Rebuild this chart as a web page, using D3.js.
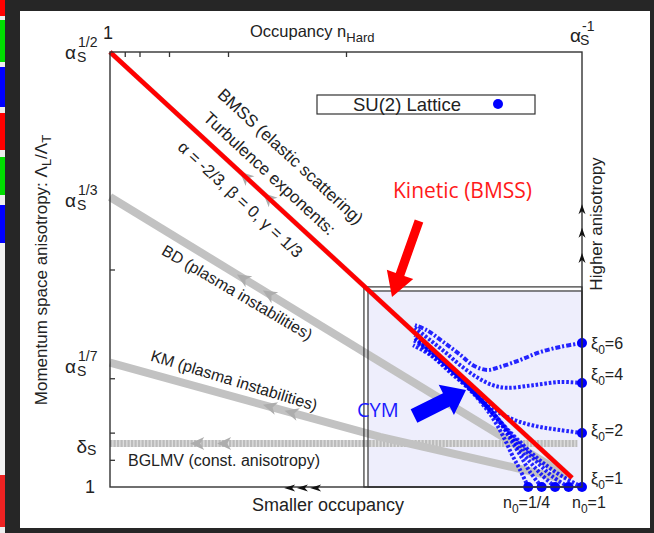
<!DOCTYPE html>
<html><head><meta charset="utf-8">
<script src="https://cdn.jsdelivr.net/npm/d3@7"></script>
<style>body{margin:0;background:#262626;}svg{display:block}</style>
</head><body>
<svg id="c" width="654" height="533"></svg>
<script>
// ---------------- data (exponents of alpha_s) ----------------
// x: occupancy exponent p (n_Hard = alpha_s^-p), y: anisotropy exponent q
const xTicks = [1/32, 1/16, 1/8, 1/4, 1/2];
const yTicks = [1/32, 1/16, 1/8, 1/4];
const yPowerLabels = [{e:1/2, sup:"1/2"}, {e:1/3, sup:"1/3"}, {e:1/7, sup:"1/7"}];
const deltaS = 0.05;
const bmssLine = [[0,0.5],[0.979,0.0105]];
const bdLine = [[0,1/3],[0.97,0.012]];
const kmLine = [[0,1/7],[0.572,0.0575],[0.953,0.0103]];
const bglmvLine = [[0,0.05],[0.99,0.05]];
const bmssArrows = [0.275, 0.324];
const bdArrows = [0.269, 0.324];
const kmArrows = [0.324, 0.37];
const bglmvArrows = [0.17, 0.227];
const latticeOuter = [0.538, 0.23];
const latticeInner = [0.5466, 0.2253];
const higherArrows = [0.325, 0.298, 0.269];   // anisotropy exponent of tips on right axis
const smallerArrows = [0.369, 0.396, 0.424];  // occupancy exponent of tips on bottom axis
const xi6 = [[1.0,0.1655],[0.953,0.161],[0.911,0.155],[0.869,0.146],[0.826,0.138],[0.799,0.1345],[0.769,0.140],[0.742,0.152],[0.706,0.1667],[0.672,0.180],[0.646,0.186]];
const xi4 = [[1.0,0.1195],[0.953,0.1207],[0.896,0.117],[0.841,0.114],[0.811,0.117],[0.778,0.126],[0.742,0.140],[0.710,0.155],[0.678,0.169],[0.646,0.183]];
const xi2 = [[1.0,0.062],[0.953,0.0655],[0.911,0.069],[0.869,0.0747],[0.833,0.0828],[0.805,0.092],[0.769,0.109],[0.727,0.131],[0.684,0.1506],[0.653,0.1655]];
const xi1a = [[0.886,0],[0.869,0.0195],[0.852,0.0368],[0.837,0.054],[0.820,0.0713],[0.799,0.0885],[0.763,0.1115],[0.720,0.132],[0.678,0.152],[0.642,0.163]];
const xi1b = [[0.9145,0],[0.890,0.0172],[0.869,0.0368],[0.847,0.0563],[0.826,0.0747],[0.801,0.0908],[0.763,0.1138],[0.720,0.1368],[0.678,0.157],[0.642,0.169]];
const xi1c = [[0.943,0],[0.915,0.0138],[0.890,0.0287],[0.864,0.046],[0.839,0.0655],[0.8136,0.0828],[0.775,0.1057],[0.731,0.131],[0.684,0.154],[0.644,0.172]];
const xi1d = [[0.9715,0],[0.9386,0.0115],[0.911,0.0253],[0.8835,0.0402],[0.854,0.0575],[0.826,0.0759],[0.788,0.0989],[0.742,0.125],[0.693,0.1506],[0.646,0.1747]];
const xi1e = [[1.0,0],[0.964,0.0103],[0.932,0.0218],[0.900,0.0356],[0.869,0.0517],[0.837,0.069],[0.799,0.0931],[0.752,0.1195],[0.699,0.148],[0.648,0.177]];
const xiDots = [[1,0.1655],[1,0.1195],[1,0.062]];
const n0Dots = [[0.886,0],[0.9145,0],[0.943,0],[0.9715,0],[1.0,0]];
const xiLabels = [{v:"6", e:0.1655},{v:"4", e:0.1195},{v:"2", e:0.062},{v:"1", e:0}];

// ---------------- drawing ----------------
const W=654,H=533;
const svg=d3.select("#c");
const FONT="'Liberation Sans', Arial, sans-serif";
const INK="#222";
svg.append("rect").attr("width",W).attr("height",H).attr("fill","#262626");
svg.append("rect").attr("x",20).attr("y",11).attr("width",630).attr("height",517).attr("fill","#fff");
const strips=[[0,16,"#ff0000"],[16,20,"#eee"],[20,62,"#00dd00"],[62,67,"#eee"],[67,107,"#0000ff"],[107,113,"#eee"],[113,150,"#ff0000"],[150,157,"#eee"],[157,195,"#00dd00"],[195,205,"#eee"],[205,243,"#0000ff"],[243,475,"#f2f2f2"],[475,527,"#ee2222"],[527,533,"#eee"]];
strips.forEach(s=>svg.append("rect").attr("x",0).attr("y",s[0]).attr("width",5).attr("height",s[1]-s[0]).attr("fill",s[2]));

const x=d3.scaleLinear().domain([0,1]).range([110,582]);
const y=d3.scaleLinear().domain([0,0.5]).range([487,52]);
const line=d3.line().x(d=>x(d[0])).y(d=>y(d[1]));
const curve=d3.line().x(d=>x(d[0])).y(d=>y(d[1])).curve(d3.curveCatmullRom.alpha(0.5));

// lattice region
svg.append("rect").attr("x",x(latticeInner[0])).attr("y",y(latticeInner[1]))
  .attr("width",x(1)-x(latticeInner[0])).attr("height",y(0)-y(latticeInner[1])).attr("fill","#eeeefc");

// gray lines
function pointAt(pts, xf){
  for(let i=0;i<pts.length-1;i++){
    const a=pts[i],b=pts[i+1];
    if(xf>=a[0]&&xf<=b[0]){
      const t=(xf-a[0])/(b[0]-a[0]);
      const e=a[1]+t*(b[1]-a[1]);
      const ang=Math.atan2(y(b[1])-y(a[1]),x(b[0])-x(a[0]))*180/Math.PI;
      return [x(xf),y(e),ang];
    }
  }
}
function grayArrows(pts, list, sc){
  list.forEach(xf=>{
    const p=pointAt(pts,xf);
    svg.append("path").attr("d",`M0,0 L${14*sc},${-6.5*sc} L${10*sc},0 L${14*sc},${6.5*sc} Z`)
      .attr("fill","#adadad").attr("transform",`translate(${p[0]},${p[1]}) rotate(${p[2]})`);
  });
}
svg.append("path").attr("d",line(bglmvLine)).attr("stroke","#dedede").attr("stroke-width",7).attr("fill","none");
svg.append("path").attr("d",line(bglmvLine)).attr("stroke","#bcbcbc").attr("stroke-width",7).attr("fill","none").attr("stroke-dasharray","2.2,1.3");
grayArrows(bglmvLine,bglmvArrows,1);
svg.append("path").attr("d",line(kmLine)).attr("stroke","#c2c2c2").attr("stroke-width",8).attr("fill","none");
grayArrows(kmLine,kmArrows,1);
svg.append("path").attr("d",line(bdLine)).attr("stroke","#c2c2c2").attr("stroke-width",8).attr("fill","none");
grayArrows(bdLine,bdArrows,1);
svg.append("path").attr("d",line(bmssLine)).attr("stroke","#c2c2c2").attr("stroke-width",5).attr("fill","none");
grayArrows(bmssLine,bmssArrows,1);

// lattice borders
svg.append("rect").attr("x",x(latticeOuter[0])).attr("y",y(latticeOuter[1]))
  .attr("width",x(1)-x(latticeOuter[0])).attr("height",y(0)-y(latticeOuter[1])).attr("fill","none").attr("stroke","#333").attr("stroke-width",1.2);
svg.append("rect").attr("x",x(latticeInner[0])).attr("y",y(latticeInner[1]))
  .attr("width",x(1)-x(latticeInner[0])).attr("height",y(0)-y(latticeInner[1])).attr("fill","none").attr("stroke","#333").attr("stroke-width",1.2);

// blue lattice curves
[xi1a,xi1b,xi1c,xi1d,xi1e,xi2,xi4].forEach(c=>{
  svg.append("path").attr("d",curve(c)).attr("fill","none").attr("stroke","#0000ff").attr("stroke-opacity",0.85)
    .attr("stroke-width",4).attr("stroke-dasharray","2.6,1.8");
});
svg.append("path").attr("d",curve(xi6)).attr("fill","none").attr("stroke","#0000ff").attr("stroke-opacity",0.85)
  .attr("stroke-width",4).attr("stroke-dasharray","5,2,2,2");

// red BMSS line
svg.append("path").attr("d",line(bmssLine)).attr("stroke","#ff0000").attr("stroke-width",4.5).attr("fill","none");

// dots
svg.selectAll(".dot").data(xiDots.concat(n0Dots)).join("circle").attr("cx",d=>x(d[0])).attr("cy",d=>y(d[1])).attr("r",5).attr("fill","#0000ff");

// axes ticks
svg.append("g").attr("transform",`translate(0,${y(0.5)})`)
  .call(d3.axisTop(x).tickValues(xTicks).tickSize(-5).tickSizeOuter(0).tickFormat(""))
  .call(g=>{g.select(".domain").remove();g.selectAll("line").attr("stroke","#333").attr("stroke-width",1.3);});
svg.append("g").attr("transform",`translate(${x(0)},0)`)
  .call(d3.axisLeft(y).tickValues(yTicks).tickSize(-5).tickSizeOuter(0).tickFormat(""))
  .call(g=>{g.select(".domain").remove();g.selectAll("line").attr("stroke","#333").attr("stroke-width",1.3);});

// frame
svg.append("rect").attr("x",x(0)).attr("y",y(0.5)).attr("width",x(1)-x(0)).attr("height",y(0)-y(0.5))
  .attr("fill","none").attr("stroke","#333").attr("stroke-width",1.4);

// axis arrows
higherArrows.forEach(e=>svg.append("path").attr("d","M0,0 L-3.5,10 L0,7 L3.5,10 Z").attr("fill","#111")
  .attr("transform",`translate(${x(1)},${y(e)})`));
smallerArrows.forEach(p=>svg.append("path").attr("d","M0,0 L11,-3.5 L8,0 L11,3.5 Z").attr("fill","#111")
  .attr("transform",`translate(${x(p)},${y(0)+1})`));

// ---------------- text ----------------
function txt(xp,yp,size,str,opt={}){
  const t=svg.append("text").attr("x",xp).attr("y",yp).style("font-family",opt.font||FONT)
    .style("font-size",size+"px").attr("fill",opt.fill||INK);
  if(opt.anchor) t.attr("text-anchor",opt.anchor);
  if(opt.tr) t.attr("transform",opt.tr);
  if(str!==null) t.text(str);
  return t;
}
function rich(t,parts){
  parts.forEach(p=>{t.append("tspan").style("font-size",p.s+"px").attr("dy",p.dy||0).text(p.t);});
  return t;
}
// y tick labels: alpha_S with power as one text element (sub & sup via tspans)
yPowerLabels.forEach(d=>{
  const Y=y(d.e)+(d.e===0.5?-3:0);
  const t=txt(65,Y+10,19,null);
  t.append("tspan").text("α");
  t.append("tspan").attr("x",77).attr("y",Y+13).style("font-size","14px").text("S");
  t.append("tspan").attr("x",78).attr("y",Y-2).style("font-size","14px").text(d.sup);
});
{ const Y=y(deltaS); const t=txt(87,Y+9,19,null,{anchor:"end"}); t.append("tspan").text("δ");
  const s=txt(87,Y+11.5,14,"S"); }
txt(95,y(0)+6,18,"1",{anchor:"end"});
// top labels
txt(108,39,18,"1",{anchor:"middle"});
{ const t=txt(570,42,19,null); t.append("tspan").text("α");
  t.append("tspan").attr("x",580).attr("y",45).style("font-size","14px").text("S");
  t.append("tspan").attr("x",582).attr("y",31).style("font-size","14px").text("-1"); }
rich(txt(250,37,16.5,null),[{t:"Occupancy n",s:16.5},{t:"Hard",s:13,dy:5}]);
// y title
rich(txt(0,0,17,null,{anchor:"middle",tr:"translate(47,270) rotate(-90)"}),
  [{t:"Momentum space anisotropy: Λ",s:17},{t:"L",s:13,dy:4},{t:"/Λ",s:17,dy:-4},{t:"T",s:13,dy:4}]);
txt(0,0,17,"Higher anisotropy",{anchor:"middle",tr:"translate(602,224) rotate(-90)"});
txt(252,511,18,"Smaller occupancy");
rich(txt(503,508,16,null),[{t:"n",s:16},{t:"0",s:12,dy:5},{t:"=1/4",s:16,dy:-5}]);
rich(txt(572,508,16,null),[{t:"n",s:16},{t:"0",s:12,dy:5},{t:"=1",s:16,dy:-5}]);
const xiBase={"6":349,"4":380,"2":436,"1":484};
xiLabels.forEach(d=>rich(txt(591,xiBase[d.v],16,null),[{t:"ξ",s:16},{t:"0",s:12,dy:5},{t:"="+d.v,s:16,dy:-5}]));
// legend
svg.append("rect").attr("x",317).attr("y",95).attr("width",218).attr("height",19).attr("fill","#fff").attr("stroke","#333").attr("stroke-width",1.2);
txt(353,111,18.5,"SU(2) Lattice");
svg.append("circle").attr("cx",498).attr("cy",104).attr("r",5).attr("fill","#0000ff");
// diagonal annotations
txt(0,0,17,"BMSS (elastic scattering)",{anchor:"middle",tr:"translate(290,157) rotate(42.7) translate(0,5)"});
txt(0,0,17,"Turbulence exponents:",{anchor:"middle",tr:"translate(269,174) rotate(42.7) translate(0,5)"});
txt(0,0,16.5,"α = -2/3, β = 0, γ = 1/3",{anchor:"middle",tr:"translate(240,200) rotate(42.7) translate(0,5)"});
txt(0,0,16,"BD (plasma instabilities)",{anchor:"middle",tr:"translate(237,293) rotate(30.5) translate(0,5)"});
txt(0,0,16,"KM (plasma instabilities)",{anchor:"middle",tr:"translate(234,381) rotate(17) translate(0,5)"});
txt(128,466,16,"BGLMV (const. anisotropy)");
// coloured annotations
function fatArrow(x1,y1,x2,y2,sw,hl,hw){
  const dx=x2-x1,dy=y2-y1,L=Math.hypot(dx,dy),ux=dx/L,uy=dy/L,nx=-uy,ny=ux;
  const bx=x2-ux*hl,by=y2-uy*hl;
  const P=[[x1+nx*sw/2,y1+ny*sw/2],[bx+nx*sw/2,by+ny*sw/2],[bx+nx*hw/2,by+ny*hw/2],[x2,y2],
    [bx-nx*hw/2,by-ny*hw/2],[bx-nx*sw/2,by-ny*sw/2],[x1-nx*sw/2,y1-ny*sw/2]];
  return "M"+P.map(p=>p.join(",")).join("L")+"Z";
}
svg.append("path").attr("d",fatArrow(419,221,392,297,9,24,28)).attr("fill","#ff0000");
txt(393,198,21,"Kinetic (BMSS)",{fill:"#ff1a1a",font:"'Open Sans', 'Noto Sans', sans-serif"});
svg.append("path").attr("d",fatArrow(414,416,466,390,15,22,34)).attr("fill","#0000ff");
txt(357,417,20,"CYM",{fill:"#1a1aff",font:"'Open Sans', 'Noto Sans', sans-serif"});
</script>
</body></html>
